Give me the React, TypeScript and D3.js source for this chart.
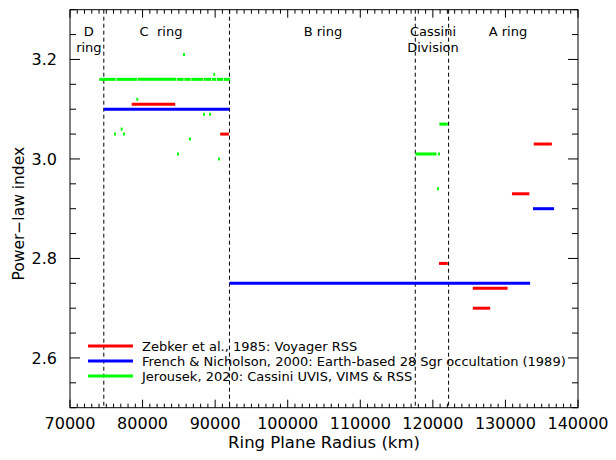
import React from "react";
import * as d3 from "d3";

// ---- data ----
const zebker: [number, number, number][] = [
  [78500, 84500, 3.11],
  [90700, 91900, 3.05],
  [133900, 136400, 3.03],
  [130900, 133300, 2.93],
  [120850, 122050, 2.79],
  [125500, 130300, 2.74],
  [125500, 127900, 2.7],
];
const french: [number, number, number][] = [
  [74658, 91975, 3.1],
  [91975, 133400, 2.75],
  [133800, 136700, 2.9],
];
const jerousekSegments: [number, number, number][] = [
  [74040, 76300, 3.16],
  [76420, 79220, 3.16],
  [79320, 84650, 3.16],
  [84750, 85660, 3.16],
  [85760, 86620, 3.16],
  [86720, 88320, 3.16],
  [88420, 89470, 3.16],
  [89570, 90160, 3.16],
  [90260, 91080, 3.16],
  [91180, 92050, 3.16],
  [117600, 120500, 3.01],
  [120900, 122050, 3.07],
];
const jerousekPoints: [number, number][] = [
  [85710, 3.21],
  [89880, 3.17],
  [79270, 3.12],
  [88460, 3.09],
  [89290, 3.09],
  [77120, 3.06],
  [76200, 3.05],
  [77440, 3.05],
  [86540, 3.04],
  [84880, 3.01],
  [90530, 3.0],
  [120710, 2.94],
  [120850, 3.01],
];
const ringBoundaries = [74658, 91975, 117580, 122170];
const ringLabels: { lines: string[]; r: number }[] = [
  { lines: ["D", "ring"], r: 72600 },
  { lines: ["C  ring"], r: 82540 },
  { lines: ["B ring"], r: 104860 },
  { lines: ["Cassini", "Division"], r: 120020 },
  { lines: ["A ring"], r: 130350 },
];
const xTickValues = [70000, 80000, 90000, 100000, 110000, 120000, 130000, 140000];
const yTickValues = [2.6, 2.8, 3.0, 3.2];
const legendLabels = [
  "Zebker et al., 1985: Voyager RSS",
  "French & Nicholson, 2000: Earth-based 28 Sgr occultation (1989)",
  "Jerousek, 2020: Cassini UVIS, VIMS & RSS",
];
const seriesColors = ["#ff0000", "#0000ff", "#00ff00"];

// ---- layout ----
const W = 616;
const H = 460;
const L = 70;
const R = 578;
const T = 9.7;
const B = 407.7;
const FONT = "'DejaVu Sans', sans-serif";

export default function App() {
  const x = d3.scaleLinear().domain([70000, 140000]).range([L, R]);
  const y = d3.scaleLinear().domain([2.5, 3.3]).range([B, T]);

  const xMinor = d3.range(70000, 140001, 1000);
  const yMinor = d3.range(0, 17).map((i) => 2.5 + i * 0.05);

  const seg = (d: [number, number, number], c: string, k: string) => (
    <line key={k} x1={x(d[0])} x2={x(d[1])} y1={y(d[2])} y2={y(d[2])} stroke={c} strokeWidth={3} />
  );

  return (
    <svg width={W} height={H} style={{ position: "absolute", left: 0, top: 0, background: "#fff" }} fontFamily={FONT}>
      <rect x={0} y={0} width={W} height={H} fill="#fff" />
      {/* ring boundaries */}
      {ringBoundaries.map((r, i) => (
        <line key={"rb" + i} x1={x(r)} x2={x(r)} y1={T} y2={B} stroke="#000" strokeWidth={1} strokeDasharray="4,3" />
      ))}
      {/* ring labels */}
      {ringLabels.map((rl, i) =>
        rl.lines.map((ln, j) => (
          <text key={"rl" + i + "_" + j} x={x(rl.r)} y={36 + j * 15.5} textAnchor="middle" fontSize={13} fill="#000" style={{ whiteSpace: "pre" }}>
            {ln}
          </text>
        ))
      )}
      {/* data */}
      {jerousekSegments.map((d, i) => seg(d, seriesColors[2], "j" + i))}
      {jerousekPoints.map((p, i) => (
        <line key={"jp" + i} x1={x(p[0] - 130)} x2={x(p[0] + 130)} y1={y(p[1])} y2={y(p[1])} stroke={seriesColors[2]} strokeWidth={3} />
      ))}
      {french.map((d, i) => seg(d, seriesColors[1], "f" + i))}
      {zebker.map((d, i) => seg(d, seriesColors[0], "z" + i))}
      {/* frame */}
      <rect x={L} y={T} width={R - L} height={B - T} fill="none" stroke="#000" strokeWidth={1} />
      {/* x ticks */}
      {xMinor.map((v, i) => {
        const major = v % 10000 === 0;
        const len = major ? 8 : 4;
        return (
          <g key={"xt" + i}>
            <line x1={x(v)} x2={x(v)} y1={B} y2={B - len} stroke="#000" strokeWidth={1} />
            <line x1={x(v)} x2={x(v)} y1={T} y2={T + len} stroke="#000" strokeWidth={1} />
          </g>
        );
      })}
      {yMinor.map((v, i) => {
        const major = Math.abs(((v * 100) % 20)) < 1e-6 || Math.abs(((v * 100) % 20) - 20) < 1e-6;
        const len = major ? 10 : 6;
        return (
          <g key={"yt" + i}>
            <line x1={L} x2={L + len} y1={y(v)} y2={y(v)} stroke="#000" strokeWidth={1} />
            <line x1={R} x2={R - len} y1={y(v)} y2={y(v)} stroke="#000" strokeWidth={1} />
          </g>
        );
      })}
      {/* tick labels */}
      {xTickValues.map((v, i) => (
        <text key={"xl" + i} x={x(v)} y={429} textAnchor="middle" fontSize={16} fill="#000">
          {String(v)}
        </text>
      ))}
      {yTickValues.map((v, i) => (
        <text key={"yl" + i} x={57} y={y(v) + 6} textAnchor="end" fontSize={16} fill="#000">
          {v.toFixed(1)}
        </text>
      ))}
      {/* axis titles */}
      <text x={(L + R) / 2} y={448} textAnchor="middle" fontSize={16.5} fill="#000">
        Ring Plane Radius (km)
      </text>
      <text transform={`translate(24, ${(T + B) / 2 + 5}) rotate(-90)`} textAnchor="middle" fontSize={15.5} fill="#000">
        Power−law index
      </text>
      {/* legend */}
      {legendLabels.map((lab, i) => (
        <g key={"lg" + i}>
          <line x1={88} x2={133} y1={346 + i * 15} y2={346 + i * 15} stroke={seriesColors[i]} strokeWidth={3} />
          <text x={142} y={350.5 + i * 15} fontSize={13} fill="#000">
            {lab}
          </text>
        </g>
      ))}
    </svg>
  );
}
